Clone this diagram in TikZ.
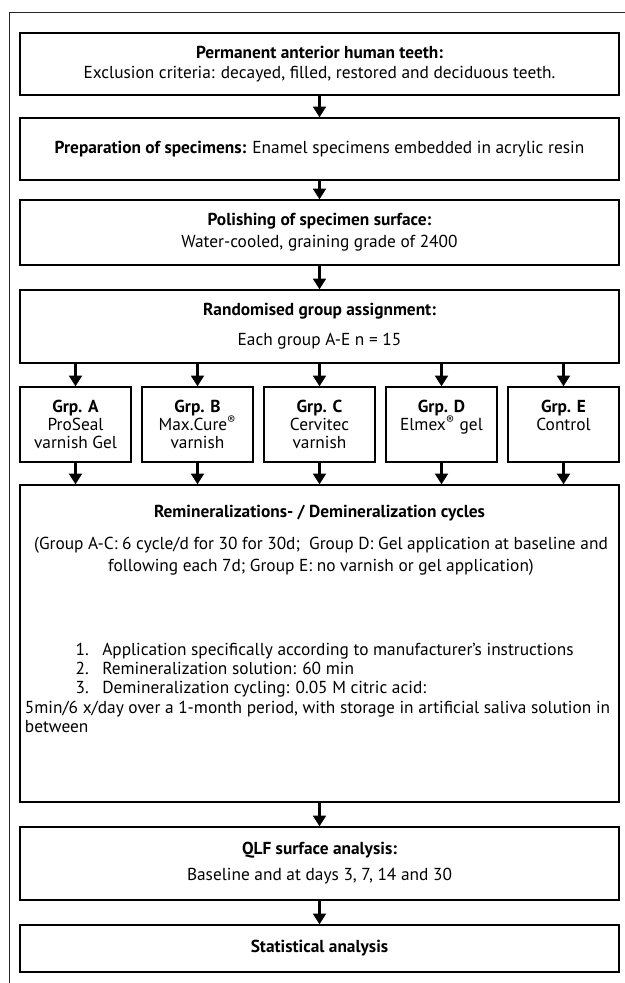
\documentclass[tikz,border=0pt]{standalone}
\usepackage{fontspec}
\setmainfont{PT Sans}
\usetikzlibrary{arrows.meta}

\begin{document}
\begin{tikzpicture}[
            x=0.75pt,
            y=-0.75pt,
            stage/.style={
                    draw,
                    rectangle,
                    line width=1pt,
                    align=center,
                    inner sep=2pt,
                    font=\fontsize{13}{15.5}\selectfont,
                    minimum width=449.25pt
                },
            grp/.style={
                    stage,
                    font=\fontsize{13}{13.5}\selectfont,
                    minimum width=83.25pt,
                    minimum height=56.25pt
                },
            plain/.style={
                    inner sep=2pt,
                    font=\fontsize{13}{16.5}\selectfont
                },
            flow/.style={
                    -{Triangle[width=9.5pt,length=8pt]},
                    line width=2.2pt
                }
        ]

        \useasboundingbox (0,0) rectangle (625,983);
        \draw[line width=0.6pt, black!85] (9,983) -- (9,12) -- (625,12);

        \node[stage, minimum height=46.5pt] (teeth) at (319.5,64) {\textbf{Permanent anterior human teeth:}\\Exclusion criteria: decayed, filled, restored and deciduous teeth.};
        \node[stage, minimum height=46.5pt] (prep) at (319.5,149) {\textbf{Preparation of specimens:} Enamel specimens embedded in acrylic resin};
        \node[stage, minimum height=48.75pt] (polish) at (319.5,232.5) {\textbf{Polishing of specimen surface:}\\[1pt]Water-cooled, graining grade of 2400};
        \node[stage, minimum height=54.75pt] (random) at (319.5,326.5) {\textbf{Randomised group assignment:}\\[7pt]Each group A-E n = 15};

        \node[grp] (grpA) at (75.5,424.5) {\textbf{Grp. A}\\ProSeal\\varnish Gel};
        \node[grp] (grpB) at (197.5,424.5) {\textbf{Grp. B}\\Max.Cure\textsuperscript{®}\\varnish};
        \node[grp] (grpC) at (319.5,424.5) {\textbf{Grp. C}\\Cervitec\\varnish};
        \node[grp] (grpD) at (441.5,424.5) {\textbf{Grp. D}\\Elmex\textsuperscript{®} gel\\\mbox{}};
        \node[grp] (grpE) at (563.5,424.5) {\textbf{Grp. E}\\Control\\\mbox{}};

        \node[stage, minimum height=237.75pt] (cycles) at (319.5,643.5) {};
        \node[plain] (cyctitle) at (319.5,513) {\textbf{Remineralizations- / Demineralization cycles}};
        \node[plain, align=center] (cycnote) at (321,556) {(Group A-C: 6 cycle/d for 30 for 30d;\ \ Group D: Gel application at baseline and\\following each 7d; Group E: no varnish or gel application)};
        \node[plain, align=left, anchor=north west, font=\fontsize{13}{14.5}\selectfont] (cycsteps) at (22,640) {%
            \hspace*{38pt}\makebox[20pt][l]{1.}Application specifically according to manufacturer’s instructions\\
            \hspace*{38pt}\makebox[20pt][l]{2.}Remineralization solution: 60 min\\
            \hspace*{38pt}\makebox[20pt][l]{3.}Demineralization cycling: 0.05 M citric acid:\\
            5min/6 x/day over a 1-month period, with storage in artificial saliva solution in\\
            between};

        \node[stage, minimum height=54.75pt] (qlf) at (319.5,863.5) {\textbf{QLF surface analysis:}\\[4pt]Baseline and at days 3, 7, 14 and 30};
        \node[stage, minimum height=35.25pt] (stats) at (319.5,948.5) {\textbf{Statistical analysis}};

        \draw[flow] (teeth) -- (prep);
        \draw[flow] (prep) -- (polish);
        \draw[flow] (polish) -- (random);

        \foreach \g in {A,B,C,D,E} {
                \draw[flow] (random.south -| grp\g) -- (grp\g);
                \draw[flow] (grp\g) -- (grp\g |- cycles.north);
            }

        \draw[flow] (cycles) -- (qlf);
        \draw[flow] (qlf) -- (stats);

    \end{tikzpicture}
\end{document}
